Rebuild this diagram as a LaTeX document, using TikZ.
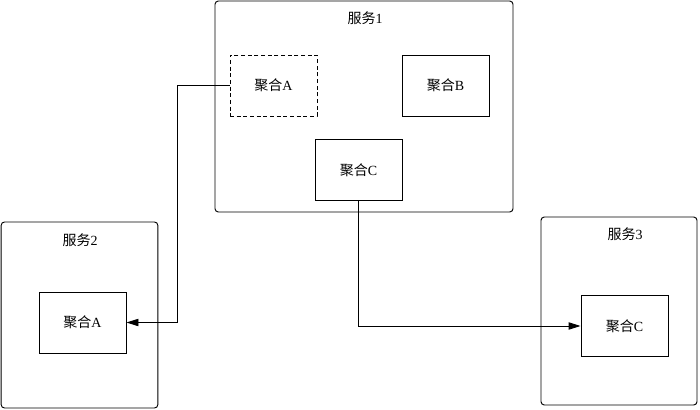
\documentclass[tikz,border=0pt]{standalone}
\usepackage{fontspec}
\setmainfont{Liberation Serif}
\newfontfamily\cjk{Noto Sans CJK SC}
\usetikzlibrary{arrows.meta}
\begin{document}
\begin{tikzpicture}[x=0.75pt,y=-0.75pt,
  every node/.style={font=\fontsize{10.5}{12}\selectfont},
  svc/.style={draw, rounded corners=2.5pt, line width=0.7pt, inner sep=0pt},
  agg/.style={draw, line width=0.7pt, inner sep=0pt, minimum width=65.25pt, minimum height=45.75pt},
  link/.style={line width=0.7pt, -{Triangle[length=9pt,width=5.5pt]}}]
\useasboundingbox (0,0) rectangle (700,410);
% services
\node[svc, minimum width=223.5pt, minimum height=158.25pt] (s1) at (364,106.5) {};
\node[svc, minimum width=117.5pt, minimum height=139.5pt] (s2) at (79.5,315) {};
\node[svc, minimum width=117pt, minimum height=141pt] (s3) at (619,311) {};
\node (t1) at (365,18) {{\cjk 服务}1};
\node (t2) at (80,240) {{\cjk 服务}2};
\node (t3) at (625,234) {{\cjk 服务}3};
% aggregates
\node[agg, dash pattern=on 3pt off 2pt] (a1) at (273.5,85.5) {{\cjk 聚合}A};
\node[agg] (b1) at (445.5,85.5) {{\cjk 聚合}B};
\node[agg] (c1) at (358.5,170) {{\cjk 聚合}C};
\node[agg] (a2) at (82.5,322.5) {{\cjk 聚合}A};
\node[agg] (c3) at (624.5,326) {{\cjk 聚合}C};
% connectors
\draw[link] (a1.west) -- ++(-52,0) |- (a2.east);
\draw[link] (c1.south) |- (c3.west);
\end{tikzpicture}
\end{document}
